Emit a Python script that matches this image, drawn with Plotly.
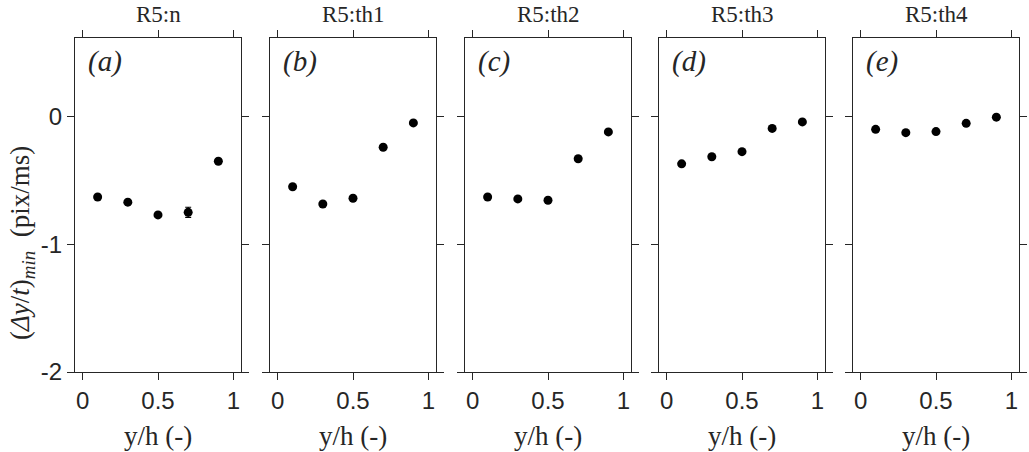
import plotly.graph_objects as go

x_vals = [0.1, 0.3, 0.5, 0.7, 0.9]
titles = ["R5:n", "R5:th1", "R5:th2", "R5:th3", "R5:th4"]
labels = ["(a)", "(b)", "(c)", "(d)", "(e)"]
y_n = [-0.63, -0.67, -0.77, -0.75, -0.35]
y_th1 = [-0.55, -0.685, -0.64, -0.24, -0.05]
y_th2 = [-0.63, -0.645, -0.655, -0.33, -0.12]
y_th3 = [-0.37, -0.315, -0.275, -0.093, -0.042]
y_th4 = [-0.10, -0.126, -0.118, -0.053, -0.005]
err_n = [0.01, 0.01, 0.015, 0.04, 0.01]
err_th1 = [0.01, 0.01, 0.01, 0.01, 0.01]
err_th2 = [0.01, 0.01, 0.01, 0.01, 0.01]
err_th3 = [0.01, 0.01, 0.01, 0.01, 0.01]
err_th4 = [0.01, 0.01, 0.01, 0.01, 0.01]
series = [y_n, y_th1, y_th2, y_th3, y_th4]
errors = [err_n, err_th1, err_th2, err_th3, err_th4]
x_ticks = [0, 0.5, 1]
x_ticktext = ["0", "0.5", "1"]
y_ticks = [-2, -1, 0]
y_ticktext = ["-2", "-1", "0"]

W, H = 1029, 452
lefts = [75, 270, 465, 659, 853]
pw = 166
top_px, bot_px = 38, 372

SERIF = "Liberation Serif, DejaVu Serif, serif"
SANS = "Liberation Sans, Arial, sans-serif"

fig = go.Figure()
layout = dict(
    template="none",
    width=W, height=H, margin=dict(l=0, r=0, t=0, b=0, pad=0, autoexpand=False),
    plot_bgcolor="white", paper_bgcolor="white", showlegend=False,
    annotations=[],
)
for i in range(5):
    xa = "x" if i == 0 else f"x{i+1}"
    ya = "y" if i == 0 else f"y{i+1}"
    fig.add_trace(go.Scatter(
        x=x_vals, y=series[i], mode="markers",
        marker=dict(color="black", size=9),
        error_y=dict(type="data", array=errors[i], color="black", thickness=1.2, width=3),
        xaxis=xa, yaxis=ya,
    ))
    x0 = lefts[i] / W
    x1 = (lefts[i] + pw) / W
    axk = "xaxis" if i == 0 else f"xaxis{i+1}"
    ayk = "yaxis" if i == 0 else f"yaxis{i+1}"
    layout[axk] = dict(
        domain=[x0, x1], range=[-0.05, 1.05], anchor=ya, automargin=False,
        tickvals=x_ticks, ticktext=x_ticktext, ticks="outside", ticklen=7,
        tickwidth=1, tickcolor="#262626", showline=True, linecolor="#262626",
        linewidth=1, mirror="ticks", showgrid=False, zeroline=False,
        tickfont=dict(family=SANS, size=24, color="#262626"),
    )
    layout[ayk] = dict(
        domain=[1 - bot_px / H, 1 - top_px / H], range=[-2, 0.615], anchor=xa,
        automargin=False,
        tickvals=y_ticks, ticktext=y_ticktext, ticks="outside", ticklen=7,
        tickwidth=1, tickcolor="#262626", showline=True, linecolor="#262626",
        linewidth=1, mirror="ticks", showgrid=False, zeroline=False,
        showticklabels=(i == 0),
        tickfont=dict(family=SANS, size=24, color="#262626"),
    )
    cx = (lefts[i] + pw / 2) / W
    layout["annotations"].append(dict(
        text=titles[i], x=cx, y=1, xref="paper", yref="paper",
        showarrow=False, font=dict(family=SERIF, size=23, color="#262626"),
        xanchor="center", yanchor="top"))
    layout["annotations"].append(dict(
        text="y/h (-)", x=cx, y=1 - 436 / H, xref="paper", yref="paper",
        showarrow=False, font=dict(family=SERIF, size=27, color="#262626"),
        xanchor="center", yanchor="middle"))
    layout["annotations"].append(dict(
        text=f"<i>{labels[i]}</i>", x=(lefts[i] + 11) / W, y=1 - 62 / H,
        xref="paper", yref="paper", showarrow=False,
        font=dict(family=SERIF, size=29, color="#262626"),
        xanchor="left", yanchor="middle"))

layout["annotations"].append(dict(
    text="(<i>Δy</i>/<i>t</i>)<sub><i>min</i></sub>  (pix/ms)",
    x=22 / W, y=1 - 243 / H, xref="paper", yref="paper", showarrow=False,
    textangle=-90, font=dict(family=SERIF, size=27, color="#262626"),
    xanchor="center", yanchor="middle"))

fig.update_layout(**layout)
fig.write_html("out.html")
